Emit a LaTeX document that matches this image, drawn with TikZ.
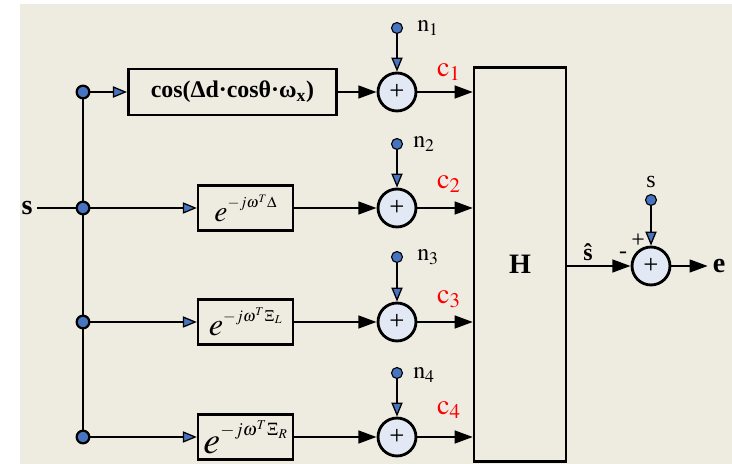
\documentclass[tikz,border=0pt]{standalone}
\usepackage{mathptmx}
\usepackage{fontspec}
\setmainfont{Liberation Serif}
\usetikzlibrary{arrows.meta}
\definecolor{fondo}{RGB}{238,236,225}
\definecolor{blu}{RGB}{70,116,193}
\definecolor{azzurro}{RGB}{226,233,245}
\definecolor{rosso}{RGB}{255,0,0}
% #1 corpo della e, #2 corpo dell'esponente
\newcommand{\expo}[3]{{\fontsize{#1}{#1}\selectfont$e$}\raisebox{0.45\dimexpr #1pt\relax}{\fontsize{#2}{#2}\selectfont$#3$}}
\tikzset{
  punto/.style={circle,draw,fill=blu,line width=1.6pt,minimum size=9pt,inner sep=0pt},
  puntino/.style={circle,draw,fill=blu,line width=0.8pt,minimum size=7.8pt,inner sep=0pt},
  blocco/.style={draw,line width=1.8pt,inner sep=0pt},
  ritardo/.style={blocco,minimum width=67.4pt,minimum height=32.3pt},
  somma/.style={circle,draw,fill=azzurro,line width=2pt,minimum size=27pt,inner sep=0pt,font=\fontsize{19}{19}\selectfont},
  filo/.style={line width=1.8pt},
  filino/.style={line width=1pt},
  frecciablu/.style={-{Triangle[length=10pt,width=8pt,fill=blu,line width=0.9pt]}},
  freccia/.style={-{Triangle[length=13pt,width=9pt]}},
  etich/.style={font=\fontsize{17}{17}\selectfont},
  etichc/.style={text=rosso,font=\fontsize{20}{20}\selectfont},
  grassetto/.style={font=\bfseries\fontsize{20}{20}\selectfont},
  segno/.style={font=\fontsize{17}{17}\selectfont}
}
\begin{document}
\begin{tikzpicture}[x=0.025cm,y=-0.025cm]
        %sfondo
        \useasboundingbox (0,0) rectangle (732,464);
        \fill[fondo] (20,4) rectangle (732,464);
        %ingresso
        \node[grassetto] (s) at (27,208) {s};
        \node[punto] (p1) at (83,92) {};
        \node[punto] (p2) at (83,208) {};
        \node[punto] (p3) at (83,322) {};
        \node[punto] (p4) at (83,437) {};
        \draw[filo] (s) -- (p2);
        \draw[filo] (p1) -- (p2);
        \draw[filo] (p2) -- (p3);
        \draw[filo] (p3) -- (p4);
        %blocchi
        \node[blocco,minimum width=148.2pt,minimum height=32.6pt,font=\bfseries\fontsize{17}{17}\selectfont] (b1) at (232.5,92) {cos(Δd·cosθ·ω\textsubscript{x})};
        \node[ritardo] (b2) at (245.5,208) {\expo{21}{11}{-j\omega^{T}\Delta}};
        \node[ritardo] (b3) at (245.5,322) {\expo{23}{11.5}{-j\omega^{T}\Xi_{L}}};
        \node[ritardo] (b4) at (245.5,437) {\expo{27}{13}{-j\omega^{T}\Xi_{R}}};
        \draw[filo,frecciablu] (p1) -- (b1);
        \draw[filo,frecciablu] (p2) -- (b2);
        \draw[filo,frecciablu] (p3) -- (b3);
        \draw[filo,frecciablu] (p4) -- (b4);
        %sommatori
        \node[somma] (sum1) at (397,92) {+};
        \node[somma] (sum2) at (397,208) {+};
        \node[somma] (sum3) at (397,322) {+};
        \node[somma] (sum4) at (397,437) {+};
        \draw[filo,freccia] (b1) -- (sum1);
        \draw[filo,freccia] (b2) -- (sum2);
        \draw[filo,freccia] (b3) -- (sum3);
        \draw[filo,freccia] (b4) -- (sum4);
        %rumore
        \node[puntino] (n1) at (397,28) {};
        \node[puntino] (n2) at (397,144) {};
        \node[puntino] (n3) at (397,257) {};
        \node[puntino] (n4) at (397,373) {};
        \draw[filino,frecciablu] (n1) -- (sum1);
        \draw[filino,frecciablu] (n2) -- (sum2);
        \draw[filino,frecciablu] (n3) -- (sum3);
        \draw[filino,frecciablu] (n4) -- (sum4);
        \node[etich] (ln1) at (428,28) {$\mathrm{n}_{1}$};
        \node[etich] (ln2) at (424,144) {$\mathrm{n}_{2}$};
        \node[etich] (ln3) at (428,257) {$\mathrm{n}_{3}$};
        \node[etich] (ln4) at (424,375) {$\mathrm{n}_{4}$};
        %matrice H
        \node[blocco,minimum width=65.2pt,minimum height=280pt,grassetto] (H) at (520,264.5) {H};
        \draw[filo,freccia] (sum1) -- (sum1 -| H.west);
        \draw[filo,freccia] (sum2) -- (sum2 -| H.west);
        \draw[filo,freccia] (sum3) -- (sum3 -| H.west);
        \draw[filo,freccia] (sum4) -- (sum4 -| H.west);
        \node[etichc] (c1) at (449,72) {$\mathrm{c}_{1}$};
        \node[etichc] (c2) at (449,184) {$\mathrm{c}_{2}$};
        \node[etichc] (c3) at (449,299) {$\mathrm{c}_{3}$};
        \node[etichc] (c4) at (449,410) {$\mathrm{c}_{4}$};
        %uscita
        \node[somma] (sumE) at (651,266) {+};
        \node[puntino] (sT) at (651,200) {};
        \node[etich] (ls) at (651,182) {s};
        \node[grassetto] (e) at (719,266) {e};
        \draw[filo,freccia] (H.east |- sumE) -- (sumE);
        \draw[filino,frecciablu] (sT) -- (sumE);
        \draw[filo,freccia] (sumE) -- (e);
        \node[font=\bfseries\fontsize{17}{17}\selectfont] (shat) at (588,252) {ŝ};
        \node[segno] (meno) at (623,255) {-};
        \node[segno] (piu) at (638,241) {+};
\end{tikzpicture}
\end{document}
